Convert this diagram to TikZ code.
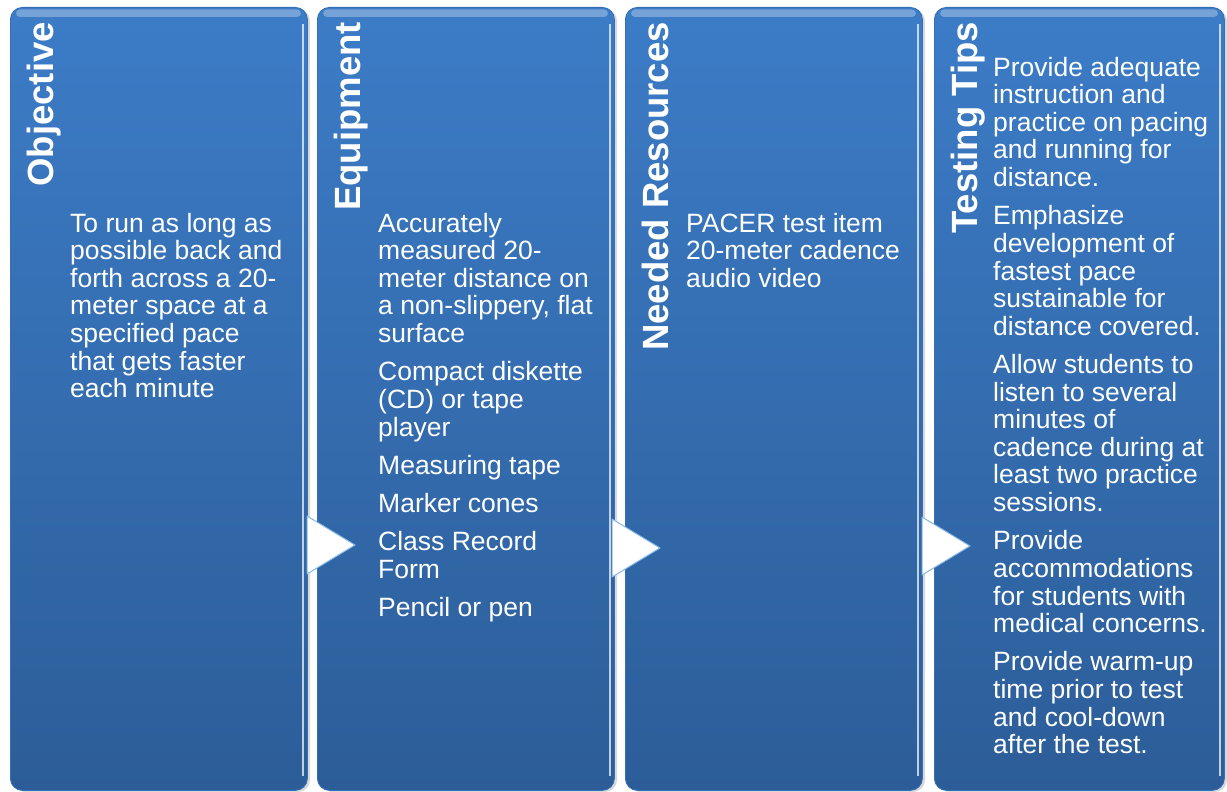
\documentclass[tikz,border=0pt]{standalone}
\usepackage{fontspec}
\setmainfont{Liberation Sans}

\definecolor{panelTop}{HTML}{3C7CC7}
\definecolor{panelBot}{HTML}{2C5D98}
\definecolor{panelEdge}{HTML}{3570B5}
\definecolor{triEdge}{HTML}{86B8E8}

\tikzset{
  panel/.style={rounded corners=12pt, top color=panelTop, bottom color=panelBot,
    draw=panelEdge, line width=.8pt, anchor=north west, inner sep=0pt},
  paneltitle/.style={rotate=90, anchor=base east, inner sep=0pt, text=white,
    font=\bfseries\fontsize{36.5}{40}\selectfont},
  paneltext/.style={anchor=north west, inner sep=0pt, align=left, text=white,
    font=\fontsize{26.5}{27.6}\selectfont},
  pacetri/.style={fill=white, draw=triEdge, line width=1pt, line join=round},
}
\newcommand{\pgap}{\\[10.7pt]}

\begin{document}
\begin{tikzpicture}[x=1pt, y=-1pt]
    \useasboundingbox (0,0) rectangle (1227,792);
    \foreach \px/\pw/\nm/\ttl in {10/297/obj/Objective, 317/297/equip/Equipment,
                                  625/297/res/Needed Resources, 934/290/tips/Testing Tips} {
        \fill[black!30, opacity=.5, rounded corners=12pt] (\px+3,9) rectangle (\px+\pw+3,792);
        \node[panel, minimum width=\pw pt, minimum height=783pt] (box-\nm) at (\px,7) {};
        \fill[white, opacity=.3, rounded corners=4pt] (\px+6,9.5) rectangle (\px+\pw-6,17);
        \draw[white, opacity=.7, line width=1.2pt] (\px+\pw-4,24) -- (\px+\pw-4,776);
        \node[paneltitle] (title-\nm) at (\px+43,22) {\ttl};
    }

    \node[paneltext] (text-obj) at (70,212.7) {To run as long as\\possible back and\\forth across a 20-\\meter space at a\\specified pace\\that gets faster\\each minute};
    \node[paneltext] (text-equip) at (378,212.7) {Accurately\\measured 20-\\meter distance on\\a non-slippery, flat\\surface\pgap
        Compact diskette\\(CD) or tape\\player\pgap Measuring tape\pgap Marker cones\pgap
        Class Record\\Form\pgap Pencil or pen};
    \node[paneltext] (text-res) at (686,212.7) {PACER test item\\20-meter cadence\\audio video};
    \node[paneltext] (text-tips) at (993,56.7) {Provide adequate\\instruction and\\practice on pacing\\and running for\\distance.\pgap
        Emphasize\\development of\\fastest pace\\sustainable for\\distance covered.\pgap
        Allow students to\\listen to several\\minutes of\\cadence during at\\least two practice\\sessions.\pgap
        Provide\\accommodations\\for students with\\medical concerns.\pgap
        Provide warm-up\\time prior to test\\and cool-down\\after the test.};

    \foreach \tx/\ty in {307/516, 612/519, 922/517}
        \draw[pacetri] (\tx,\ty) -- (\tx+48,\ty+29) -- (\tx,\ty+58) -- cycle;
\end{tikzpicture}
\end{document}
